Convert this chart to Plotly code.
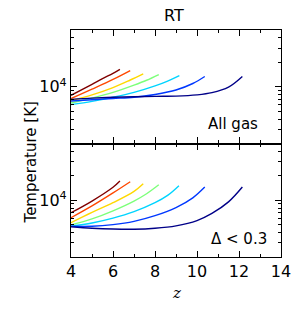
import plotly.graph_objects as go
from plotly.subplots import make_subplots

colors = ["#800000", "#ff4800", "#ffd800", "#7dff7a", "#00d4ff", "#0038ff", "#000088"]

# Top panel: All gas  (z, log10 T)
top_z = [
    [4, 5, 5.5, 6, 6.33],
    [4, 5, 6, 6.82],
    [4, 5, 6, 6.8, 7.44],
    [4, 5, 6, 7, 7.6, 8.18],
    [4, 5, 6, 7, 8, 8.6, 9.16],
    [4, 5, 6, 7, 8, 9, 9.8, 10.37],
    [4, 5, 6, 7, 8, 9, 10, 10.71, 11.5, 12.16],
]
top_logT = [
    [3.894, 4.03, 4.10, 4.165, 4.215],
    [3.854, 3.97, 4.09, 4.199],
    [3.827, 3.90, 3.99, 4.08, 4.158],
    [3.80, 3.86, 3.93, 4.02, 4.08, 4.15],
    [3.78, 3.82, 3.87, 3.93, 4.01, 4.07, 4.138],
    [3.825, 3.84, 3.855, 3.87, 3.905, 3.96, 4.04, 4.126],
    [3.845, 3.86, 3.87, 3.877, 3.882, 3.885, 3.90, 3.927, 3.995, 4.126],
]

# Bottom panel: Delta < 0.3
bot_z = [
    [4, 5, 6, 6.33],
    [4, 5, 6, 6.82],
    [4, 5, 6, 7, 7.44],
    [4, 5, 6, 7, 7.6, 8.18],
    [4, 5, 6, 7, 8, 8.6, 9.14],
    [4, 5, 6, 7, 8, 9, 9.8, 10.37],
    [4, 5, 6, 7, 8, 9, 10, 10.71, 11.5, 12.16],
]
bot_logT = [
    [3.846, 3.99, 4.16, 4.237],
    [3.785, 3.93, 4.09, 4.228],
    [3.724, 3.85, 3.97, 4.11, 4.204],
    [3.695, 3.77, 3.87, 3.99, 4.08, 4.19],
    [3.68, 3.72, 3.78, 3.86, 3.97, 4.06, 4.18],
    [3.68, 3.68, 3.70, 3.74, 3.81, 3.91, 4.03, 4.163],
    [3.673, 3.655, 3.645, 3.643, 3.655, 3.685, 3.75, 3.838, 3.98, 4.163],
]

x_ticks = [4, 6, 8, 10, 12, 14]
x_minor = [5, 7, 9, 11, 13]
y_major = [1e4]
y_minor = [2000, 3000, 4000, 5000, 6000, 7000, 8000, 9000, 20000, 30000, 40000]

fig = make_subplots(rows=2, cols=1, shared_xaxes=True, vertical_spacing=0)

for row, zs, ls in [(1, top_z, top_logT), (2, bot_z, bot_logT)]:
    for c, z, lt in zip(colors, zs, ls):
        fig.add_trace(go.Scatter(x=z, y=[10 ** v for v in lt], mode="lines",
                                 line=dict(color=c, width=1.4, shape="spline"),
                                 showlegend=False, hoverinfo="skip"), row=row, col=1)

font = "DejaVu Sans"
for r in (1, 2):
    fig.update_xaxes(range=[4, 14], tickvals=x_ticks, ticks="inside", ticklen=6,
                     tickcolor="black", showline=True, linecolor="black", linewidth=1.2,
                     mirror="ticks", showgrid=False, zeroline=False,
                     minor=dict(tickvals=x_minor, ticks="inside", ticklen=3, tickcolor="black"),
                     tickfont=dict(family=font, size=16, color="black"), row=r, col=1)
    fig.update_yaxes(type="log", range=[3.30103, 4.69897], tickvals=y_major,
                     ticktext=["10<sup>4</sup>"], ticks="inside", ticklen=6,
                     tickcolor="black", showline=True, linecolor="black", linewidth=1.2,
                     mirror="ticks", showgrid=False, zeroline=False,
                     minor=dict(tickvals=y_minor, ticks="inside", ticklen=3, tickcolor="black"),
                     tickfont=dict(family=font, size=16, color="black"), row=r, col=1)

fig.update_xaxes(showticklabels=False, row=1, col=1)

fig.add_annotation(text="All gas", x=0.9, y=0.586, xref="paper", yref="paper",
                   xanchor="right", yanchor="middle", showarrow=False,
                   font=dict(family=font, size=15, color="black"))
fig.add_annotation(text="Δ < 0.3", x=0.942, y=0.079, xref="paper", yref="paper",
                   xanchor="right", yanchor="middle", showarrow=False,
                   font=dict(family=font, size=15, color="black"))
fig.add_annotation(text="Temperature [K]", x=(20 - 71) / 212, y=(257 - 162) / 227,
                   xref="paper", yref="paper", showarrow=False, textangle=-90,
                   font=dict(family=font, size=15, color="black"))
fig.add_annotation(text="RT", x=0.49, y=1.0, xref="paper", yref="paper",
                   yshift=15, xanchor="center", yanchor="middle", showarrow=False,
                   font=dict(family=font, size=16, color="black"))
fig.add_annotation(text="<i>z</i>", x=0.5, y=0, xref="paper", yref="paper",
                   yshift=-36, xanchor="center", yanchor="middle", showarrow=False,
                   font=dict(family="DejaVu Serif", size=15, color="black"))

fig.update_layout(width=303, height=311, margin=dict(l=71, r=20, t=30, b=54),
                  paper_bgcolor="white", plot_bgcolor="white",
                  font=dict(family=font, color="black"))

fig.write_html("out.html", config={"displayModeBar": False},
               post_script="document.body.style.margin='0';")
